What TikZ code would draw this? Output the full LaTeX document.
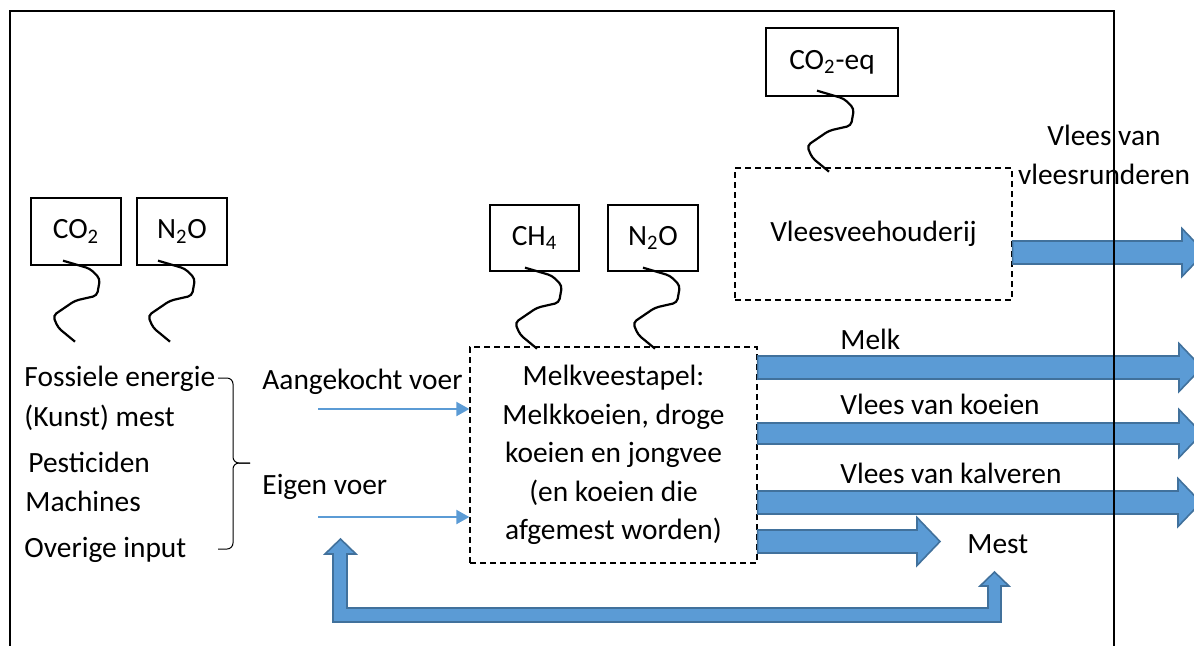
\documentclass[tikz,border=0pt]{standalone}
\usepackage{fontspec}
\setmainfont{Carlito}
\usetikzlibrary{arrows.meta}

\definecolor{flowblue}{HTML}{5B9BD5}
\definecolor{flowedge}{HTML}{41719C}

% fat output arrow: start anchor, tip x, mid y, half body
\newcommand{\fatarrow}[4]{%
  \filldraw[flow] (#1 |- 0,#3-#4) -- (#2-23,#3-#4) -- (#2-23,#3-24) -- (#2,#3)
    -- (#2-23,#3+24) -- (#2-23,#3+#4) -- (#1 |- 0,#3+#4) -- cycle;}

\begin{document}
\begin{tikzpicture}[x=0.5pt, y=-0.5pt,
  font=\fontsize{14.7}{19.25}\selectfont,
  gas/.style={draw, line width=0.65pt, inner sep=0pt, minimum width=45pt, minimum height=33.5pt},
  stal/.style={draw, dashed, dash pattern=on 3pt off 2pt, line width=0.65pt, inner sep=0pt, align=center},
  flow/.style={fill=flowblue, draw=flowedge, line width=0.8pt},
  feed/.style={flowblue, line width=1pt, -{Triangle[length=6.5pt,width=7pt]}},
  txt/.style={inner sep=0pt, anchor=base west},
  squiggle/.pic={\draw[line width=1.1pt, rounded corners=2pt] (0,0) -- (27,8) -- (37,18)
    -- (34,35) -- (12,40) -- (-10,55) -- (-5,67) -- (12,81);}]
  \useasboundingbox (0,0) rectangle (1194,645);

  % Emission boxes
  \node[gas] (co2) at (76,231.5) {CO\textsubscript{2}};
  \node[gas] (ntwoa) at (182,231.5) {N\textsubscript{2}O};
  \node[gas, minimum width=44.5pt, minimum height=33pt] (ch4) at (534.5,238) {CH\textsubscript{4}};
  \node[gas, minimum height=33pt] (ntwob) at (653,238) {N\textsubscript{2}O};
  \node[gas, minimum width=66pt, minimum height=34pt] (co2eq) at (832,62) {CO\textsubscript{2}-eq};

  % Farm units
  \node[stal, minimum width=143.5pt, minimum height=108pt] (melk) at (613.5,455)
    {Melkveestapel:\\Melkkoeien, droge\\koeien en jongvee\\(en koeien die\\afgemest worden)};
  \node[stal, minimum width=138.5pt, minimum height=66pt] (vlees) at (873.5,234) {Vleesveehouderij};

  % Squiggly emission lines
  \pic at ([shift={(-13,-5)}]co2.south) {squiggle};
  \pic at ([shift={(-24,-5)}]ntwoa.south) {squiggle};
  \pic at ([shift={(-9.5,-4)}]ch4.south) {squiggle};
  \pic at ([shift={(-10,-4)}]ntwob.south) {squiggle};
  \pic at ([shift={(-15,-6)}]co2eq.south) {squiggle};

  % Inputs
  \node[txt] (fos) at (24,386) {Fossiele energie};
  \node[txt] (kunst) at (24,426) {(Kunst) mest};
  \node[txt] (pest) at (28,472) {Pesticiden};
  \node[txt] (mach) at (25,511) {Machines};
  \node[txt] (over) at (24,557) {Overige input};
  \draw[line width=0.5pt, rounded corners=3pt] (218,378) -- (233,378) -- (233,463) -- (250,463);
  \draw[line width=0.5pt, rounded corners=3pt] (250,463) -- (233,463) -- (233,549) -- (218,549);

  % Feed
  \node[txt] (aanklbl) at (262,389) {Aangekocht voer};
  \node[txt] (eigenlbl) at (262,494) {Eigen voer};
  \coordinate (aank) at (318,409);
  \coordinate (eigen) at (318,517);
  \draw[feed] (aank) -- (aank -| melk.west);
  \draw[feed] (eigen) -- (eigen -| melk.west);

  % Outputs
  \fatarrow{vlees.east}{1205}{252.5}{11.5}
  \fatarrow{melk.east}{1202}{367.5}{11.5}
  \fatarrow{melk.east}{1202}{433.5}{10.5}
  \fatarrow{melk.east}{1201}{502.5}{11.5}
  \fatarrow{melk.east}{940}{541.5}{11.5}
  \node[inner sep=0pt, anchor=base, align=center, font=\fontsize{14.7}{19.5}\selectfont] (vleeslbl) at (1104,184) {Vlees van\\vleesrunderen};
  \node[txt] (melklbl) at (840,349) {Melk};
  \node[txt] (koelbl) at (840,414) {Vlees van koeien};
  \node[txt] (kallbl) at (840,483) {Vlees van kalveren};
  \node[txt] (mest) at (967,553) {Mest};

  % Manure back to own feed
  \filldraw[flow] (333,622) -- (333,554) -- (325,554) -- (340.5,539) -- (356,554) -- (347,554)
    -- (347,608) -- (988,608) -- (988,586) -- (980,586) -- (994.5,572) -- (1009,586)
    -- (1001,586) -- (1001,622) -- cycle;

  % System boundary
  \draw[line width=0.65pt] (10,650) -- (10,11) -- (1114,11) -- (1114,650);
\end{tikzpicture}
\end{document}
